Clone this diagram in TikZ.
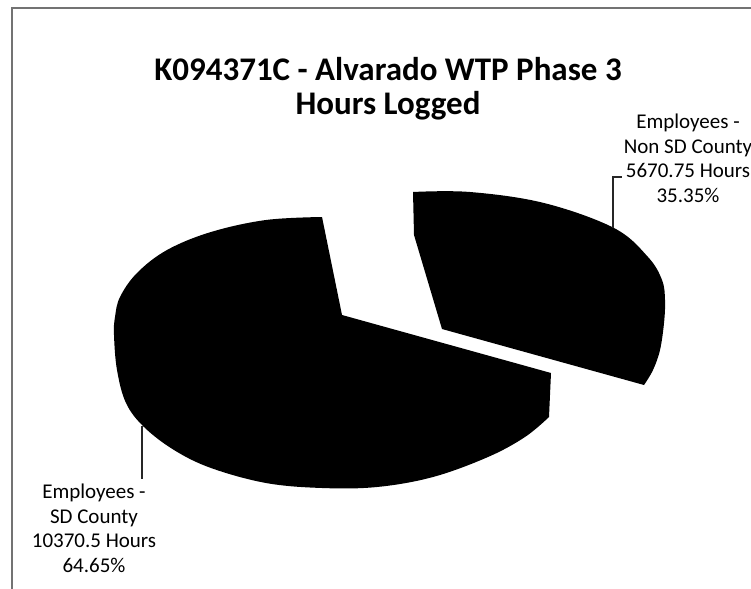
\documentclass[tikz,border=0pt]{standalone}
\usepackage{fontspec}
\setmainfont{Carlito}
\usetikzlibrary{calc}

\tikzset{
  slice/.style={fill=black},
  leader/.style={draw=black!85, line width=1.3pt},
  frame/.style={draw=black!55, line width=1.6pt},
  charttitle/.style={font=\bfseries\fontsize{33}{34}\selectfont, align=center, inner sep=0pt},
  datalabel/.style={font=\fontsize{21}{24.5}\selectfont, align=center, inner sep=0pt}
}

\begin{document}
\begin{tikzpicture}[x=1pt, y=-1pt]
      \useasboundingbox (0,0) rectangle (751,588);
      \draw[frame] (12,600) -- (12,8) -- (760,8);

      % base anchor sits on the last line
      \node[charttitle, anchor=base] (title) at (388,115) {K094371C - Alvarado WTP Phase 3\\Hours Logged};

      % SD County slice
      \fill[slice] (322,217) -- (342,315) -- (551,373) -- (549,417)
        -- plot[smooth, tension=0.6] coordinates {(549,417) (525,437) (488,457) (433,477) (377,487) (322,488) (266,483) (211,468) (174,450) (144,427) (126,403) (117,370) (114,335) (115,317) (120,297) (137,273) (167,250) (211,232) (266,220) (322,217)} -- cycle;

      % Non SD County slice, pulled out
      \fill[slice] (413,192) -- (414,235) -- (442,329) -- (644,385)
        -- plot[smooth, tension=0.6] coordinates {(644,385) (653,370) (660,350) (664,323) (665,300) (662,280) (648,257) (614,228) (544,203) (470,192) (413,192)} -- cycle;

      \node[datalabel, anchor=base] (sdlabel) at (94,572) {Employees -\\SD County\\10370.5 Hours\\64.65\%};
      \node[datalabel, anchor=base] (nslabel) at (688,202) {Employees -\\Non SD County\\5670.75 Hours\\35.35\%};

      \coordinate (sdtip) at (142,426);
      \coordinate (nstip) at (613,228);
      \coordinate (nselbow) at (613,177);

      \draw[leader] (sdtip) -- (sdtip |- 0,479);
      \draw[leader] (nstip) -- (nselbow) -- ++(9,0);
    \end{tikzpicture}
\end{document}
